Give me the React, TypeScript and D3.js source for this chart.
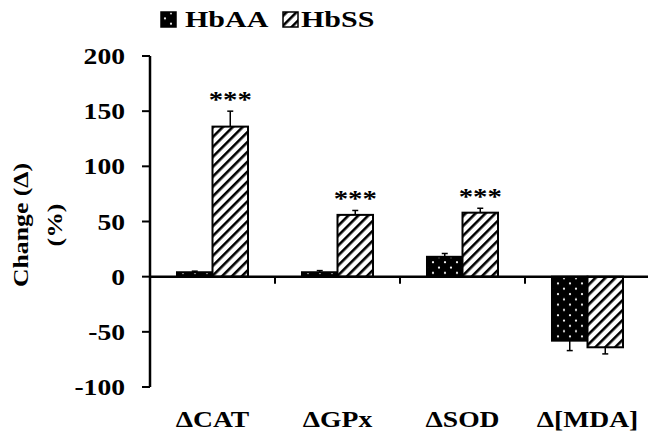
import React from "react";
import * as d3 from "d3";

const categories = ["\u0394CAT", "\u0394GPx", "\u0394SOD", "\u0394[MDA]"];
const seriesNames = ["HbAA", "HbSS"];
const hbaaValues = [4, 4, 18, -58];
const hbaaErrors = [1, 1.5, 3, 9];
const hbssValues = [136, 56, 58, -64];
const hbssErrors = [14, 4, 4, 6];
const hbssStars = ["***", "***", "***", ""];
const yTicks = [-100, -50, 0, 50, 100, 150, 200];
const yTitle = ["Change (\u0394)", "(%)"];

const width = 650;
const height = 434;
const font = "'Liberation Serif', 'Times New Roman', serif";
const sx = 1.2;

const App = () => {
  const y = d3.scaleLinear().domain([-100, 200]).range([387, 56]);
  const x = d3.scaleBand().domain(categories).range([150, 650]).padding(0);
  const xSub = d3.scaleBand().domain(seriesNames).range([0, x.bandwidth()]).paddingInner(0).paddingOuter(0.76);

  const rows = categories.map((c, i) => ({
    c,
    bars: [
      { s: "HbAA", v: hbaaValues[i], e: hbaaErrors[i], star: "" },
      { s: "HbSS", v: hbssValues[i], e: hbssErrors[i], star: hbssStars[i] },
    ],
  }));

  const fillFor = (s: string) => (s === "HbAA" ? "url(#dots)" : "url(#stripes)");

  return (
    <svg width={width} height={height} style={{ position: "absolute", left: 0, top: 0, background: "#fff" }}>
      <defs>
        <pattern id="dots" patternUnits="userSpaceOnUse" width="12" height="10.6">
          <rect width="12" height="10.6" fill="#000" />
          <circle cx="3" cy="2.6" r="1.1" fill="#fff" />
          <circle cx="9" cy="7.9" r="1.1" fill="#fff" />
        </pattern>
        <pattern id="stripes" patternUnits="userSpaceOnUse" width="7" height="7" patternTransform="rotate(45)">
          <rect width="7" height="7" fill="#fff" />
          <rect width="2.6" height="7" fill="#000" />
        </pattern>
      </defs>

      {/* legend */}
      <g fontFamily={font} fontWeight="bold" fontSize={24}>
        <rect x={161} y={12} width={15} height={15} fill="url(#dots)" stroke="#000" strokeWidth={1.5} />
        <text transform={`translate(185,27) scale(1.25,1)`}>{seriesNames[0]}</text>
        <rect x={283} y={12} width={15} height={15} fill="url(#stripes)" stroke="#000" strokeWidth={1.5} />
        <text transform={`translate(301,27) scale(1.25,1)`}>{seriesNames[1]}</text>
      </g>

      {/* bars */}
      {rows.map((r) => (
        <g key={r.c} transform={`translate(${x(r.c)},0)`}>
          {r.bars.map((b) => {
            const bx = xSub(b.s) as number;
            const bw = xSub.bandwidth();
            const top = y(Math.max(0, b.v));
            const bot = y(Math.min(0, b.v));
            const ev = b.v >= 0 ? b.v + b.e : b.v - b.e;
            const cx = bx + bw / 2;
            return (
              <g key={b.s}>
                <line x1={cx} x2={cx} y1={y(b.v)} y2={y(ev)} stroke="#000" strokeWidth={1.5} />
                <line x1={cx - 3} x2={cx + 3} y1={y(ev)} y2={y(ev)} stroke="#000" strokeWidth={1.5} />
                <rect x={bx} y={top} width={bw} height={bot - top} fill={fillFor(b.s)} stroke="#000" strokeWidth={2} />
                {b.star && (
                  <text
                    transform={`translate(${cx},${y(ev) - 4}) scale(${sx},1)`}
                    textAnchor="middle"
                    fontFamily={font}
                    fontWeight="bold"
                    fontSize={24}
                  >
                    {b.star}
                  </text>
                )}
              </g>
            );
          })}
        </g>
      ))}

      {/* x axis */}
      <line x1={150} x2={648} y1={y(0)} y2={y(0)} stroke="#000" strokeWidth={2.5} />
      {categories.slice(1).map((c) => (
        <line key={c} x1={x(c)} x2={x(c)} y1={y(0)} y2={y(0) + 7} stroke="#000" strokeWidth={2} />
      ))}
      {categories.map((c) => (
        <text
          key={c}
          transform={`translate(${(x(c) as number) + x.bandwidth() / 2},427) scale(${sx},1)`}
          textAnchor="middle"
          fontFamily={font}
          fontWeight="bold"
          fontSize={23}
        >
          {c}
        </text>
      ))}

      {/* y axis */}
      <line x1={150} x2={150} y1={y(200)} y2={y(-100)} stroke="#000" strokeWidth={2.5} />
      {yTicks.map((t) => (
        <g key={t}>
          <line x1={142} x2={150} y1={y(t)} y2={y(t)} stroke="#000" strokeWidth={2} />
          <text
            transform={`translate(125,${y(t) + 8}) scale(${sx},1)`}
            textAnchor="end"
            fontFamily={font}
            fontWeight="bold"
            fontSize={23}
          >
            {t}
          </text>
        </g>
      ))}

      {/* y title */}
      <g fontFamily={font} fontWeight="bold" fontSize={22} textAnchor="middle">
        <text transform={`translate(28,225) rotate(-90) scale(1.17,1)`}>{yTitle[0]}</text>
        <text transform={`translate(62,225) rotate(-90) scale(1.17,1)`}>{yTitle[1]}</text>
      </g>
    </svg>
  );
};

export default App;
